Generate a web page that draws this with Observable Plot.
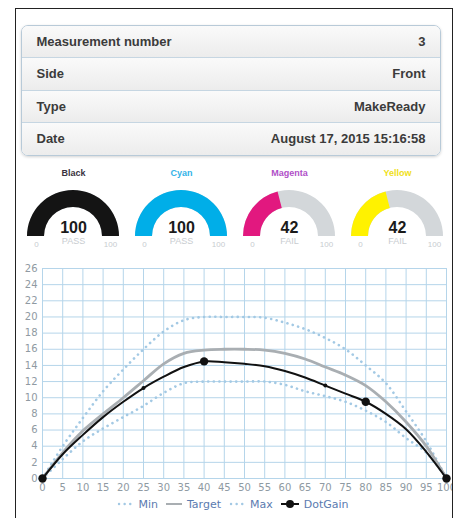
<!DOCTYPE html>
<html>
<head>
<meta charset="utf-8">
<script src="https://cdn.jsdelivr.net/npm/d3@7"></script>
<script src="https://cdn.jsdelivr.net/npm/@observablehq/plot@0.6"></script>
<style>
  html, body { margin: 0; padding: 0; background: #fff; }
  body { width: 457px; height: 518px; position: relative; overflow: hidden; font-family: "Liberation Sans", Arial, sans-serif; }
  #frame { position: absolute; left: 15px; top: 8px; width: 436px; height: 520px; border: 1.5px solid #222; border-bottom: none; overflow: hidden; }
  #inner { position: absolute; left: -16.5px; top: -9.5px; width: 457px; height: 518px; }
  #table { position: absolute; left: 21px; top: 25px; width: 418px; height: 129px; border: 1px solid #b8cad8; border-radius: 7px; overflow: hidden; box-shadow: 0 1px 3px rgba(0,0,0,0.18); }
  .row { height: 31.5px; display: flex; justify-content: space-between; align-items: center; padding: 0 14px 0 15px; border-bottom: 1px solid #c6d6e2;
         background: linear-gradient(#fafafa, #ececec); font-weight: bold; font-size: 13px; color: #3b3b3b; }
  .row:last-child { border-bottom: none; }
  #gauges { position: absolute; left: 0; top: 160px; }
  #chart { position: absolute; left: 0; top: 258px; }
  #legend { position: absolute; left: 15px; width: 437px; top: 498px; display: flex; justify-content: center; align-items: center; gap: 0; font-family: "DejaVu Sans", sans-serif; font-size: 11px; color: #5b7bb0; }
  #legend .item { display: flex; align-items: center; margin: 0 4px; }
  #legend svg { margin-right: 5px; }
</style>
</head>
<body>
<div id="frame"><div id="inner">
  <div id="table"></div>
  <div id="gauges"></div>
  <div id="chart"></div>
  <div id="legend"></div>
</div></div>
<script>
// ---------- data ----------
const infoLabels = ["Measurement number", "Side", "Type", "Date"];
const infoValues = ["3", "Front", "MakeReady", "August 17, 2015 15:16:58"];

const gaugeNames = ["Black", "Cyan", "Magenta", "Yellow"];
const gaugeValues = [100, 100, 42, 42];
const gaugeStatus = ["PASS", "PASS", "FAIL", "FAIL"];
const gaugeColors = ["#141414", "#00aee8", "#e2187f", "#fff200"];
const gaugeLabelColors = ["#3a3340", "#33b3e8", "#b050c8", "#f0e020"];

const tone = [0,5,10,15,20,25,30,35,40,45,50,55,60,65,70,75,80,85,90,95,100];
const minVals    = [0,2.4,4.6,6.2,7.6,9.0,10.6,11.8,12,12,12,12,11.6,10.8,10.2,9.5,8.4,7.0,5.0,3.2,0];
const targetVals = [0,3.2,5.9,8.0,10.0,12.1,14.2,15.5,15.9,16,16,15.9,15.5,14.8,13.8,12.8,11.5,9.5,7.0,4.0,0];
const maxVals    = [0,4.0,7.5,10.8,13.5,16.0,18.2,19.6,20,20,20,19.9,19.3,18.5,17.4,16.0,14.0,11.8,8.3,4.6,0];
const dotGainVals= [0,3.0,5.4,7.6,9.5,11.2,12.6,13.8,14.5,14.4,14.2,13.9,13.3,12.5,11.5,10.5,9.5,8.0,6.1,3.3,0];
const bigMarkerTones = [0, 40, 80, 100];
const smallMarkerTones = [25, 70];

const xTicks = d3.range(0, 101, 5);
const yTicks = d3.range(0, 27, 2);

// ---------- table ----------
const table = document.getElementById("table");
infoLabels.forEach((l, i) => {
  const r = document.createElement("div");
  r.className = "row";
  r.innerHTML = `<span>${l}</span><span>${infoValues[i]}</span>`;
  table.appendChild(r);
});

// ---------- gauges ----------
const gauges = gaugeNames.map((name, i) => ({name, value: gaugeValues[i], status: gaugeStatus[i], color: gaugeColors[i], labelColor: gaugeLabelColors[i]}));
const angle = d3.scaleLinear().domain([0, 100]).range([-Math.PI / 2, Math.PI / 2]);
const baseY = 76, outerR = 46, innerR = 29;

function arcMark(index, scales) {
  const g = d3.create("svg:g");
  const arc = d3.arc().innerRadius(innerR).outerRadius(outerR);
  for (const d of gauges) {
    const cx = scales.x(d.name);
    const gg = g.append("g").attr("transform", `translate(${cx},${baseY})`);
    gg.append("path").attr("d", arc({startAngle: angle(0), endAngle: angle(100)})).attr("fill", "#d3d7da");
    gg.append("path").attr("d", arc({startAngle: angle(0), endAngle: angle(d.value)})).attr("fill", d.color);
  }
  return g.node();
}

const gaugePlot = Plot.plot({
  width: 457, height: 92,
  marginLeft: 18, marginRight: 6, marginTop: 0, marginBottom: 0,
  x: {type: "point", domain: gaugeNames, padding: 0.5, axis: null},
  style: {fontFamily: "Liberation Sans, Arial, sans-serif", background: "transparent"},
  marks: [
    arcMark,
    Plot.text(gauges, {x: "name", frameAnchor: "top", lineAnchor: "middle", dy: 13, text: "name", fill: "labelColor", fontWeight: "bold", fontSize: 9}),
    Plot.text(gauges, {x: "name", frameAnchor: "top", lineAnchor: "middle", dy: 67, text: d => String(d.value), fill: "#1a1a1a", fontWeight: "bold", fontSize: 16}),
    Plot.text(gauges, {x: "name", frameAnchor: "top", lineAnchor: "middle", dy: 81, text: "status", fill: "#c8ccd0", fontSize: 9}),
    Plot.text(gauges, {x: "name", frameAnchor: "top", lineAnchor: "middle", dy: 84, dx: -37, text: () => "0", fill: "#c8ccd0", fontSize: 8}),
    Plot.text(gauges, {x: "name", frameAnchor: "top", lineAnchor: "middle", dy: 84, dx: 37, text: () => "100", fill: "#c8ccd0", fontSize: 8})
  ]
});
document.getElementById("gauges").appendChild(gaugePlot);

// ---------- chart ----------
const rows = tone.map((t, i) => ({tone: t, min: minVals[i], target: targetVals[i], max: maxVals[i], dot: dotGainVals[i]}));
const bigMarkers = rows.filter(d => bigMarkerTones.includes(d.tone));
const smallMarkers = rows.filter(d => smallMarkerTones.includes(d.tone));

const chart = Plot.plot({
  width: 457, height: 240,
  marginLeft: 42, marginRight: 11, marginTop: 10, marginBottom: 20,
  x: {domain: [0, 100]},
  y: {domain: [0, 26]},
  style: {fontFamily: "DejaVu Sans, sans-serif", background: "transparent"},
  marks: [
    Plot.gridX(xTicks, {stroke: "#b5d5ea", strokeOpacity: 1, strokeWidth: 1}),
    Plot.gridY(yTicks, {stroke: "#b5d5ea", strokeOpacity: 1, strokeWidth: 1}),
    Plot.line(rows, {x: "tone", y: "max", curve: "catmull-rom", stroke: "#a3c9e4", strokeWidth: 2.6, strokeDasharray: "0.1,5.5", strokeLinecap: "round"}),
    Plot.line(rows, {x: "tone", y: "min", curve: "catmull-rom", stroke: "#a3c9e4", strokeWidth: 2.6, strokeDasharray: "0.1,5.5", strokeLinecap: "round"}),
    Plot.line(rows, {x: "tone", y: "target", curve: "catmull-rom", stroke: "#a9aeb2", strokeWidth: 2.8}),
    Plot.line(rows, {x: "tone", y: "dot", curve: "catmull-rom", stroke: "#111", strokeWidth: 2}),
    Plot.dot(smallMarkers, {x: "tone", y: "dot", r: 2, fill: "#111"}),
    Plot.dot(bigMarkers, {x: "tone", y: "dot", r: 4.2, fill: "#111"}),
    Plot.axisX({ticks: xTicks, tickSize: 0, tickPadding: 5, fontSize: 10, fill: "#8f9aa2", label: null}),
    Plot.axisY({ticks: yTicks, tickSize: 0, tickPadding: 5, fontSize: 10, fill: "#8f9aa2", label: null})
  ]
});
document.getElementById("chart").appendChild(chart);

// ---------- legend ----------
const legendItems = [
  {name: "Min", kind: "dotted"},
  {name: "Target", kind: "solid"},
  {name: "Max", kind: "dotted"},
  {name: "DotGain", kind: "marker"}
];
const legend = document.getElementById("legend");
for (const it of legendItems) {
  const el = document.createElement("div");
  el.className = "item";
  let sw = "";
  if (it.kind === "dotted") sw = `<svg width="16" height="10"><line x1="2" x2="14" y1="5" y2="5" stroke="#a3c9e4" stroke-width="2.4" stroke-dasharray="0.1,5.5" stroke-linecap="round"/></svg>`;
  if (it.kind === "solid") sw = `<svg width="16" height="10"><line x1="0" x2="16" y1="5" y2="5" stroke="#a9aeb2" stroke-width="2"/></svg>`;
  if (it.kind === "marker") sw = `<svg width="18" height="10"><line x1="0" x2="18" y1="5" y2="5" stroke="#111" stroke-width="2"/><circle cx="9" cy="5" r="4" fill="#111"/></svg>`;
  el.innerHTML = sw + `<span>${it.name}</span>`;
  legend.appendChild(el);
}
</script>
</body>
</html>
